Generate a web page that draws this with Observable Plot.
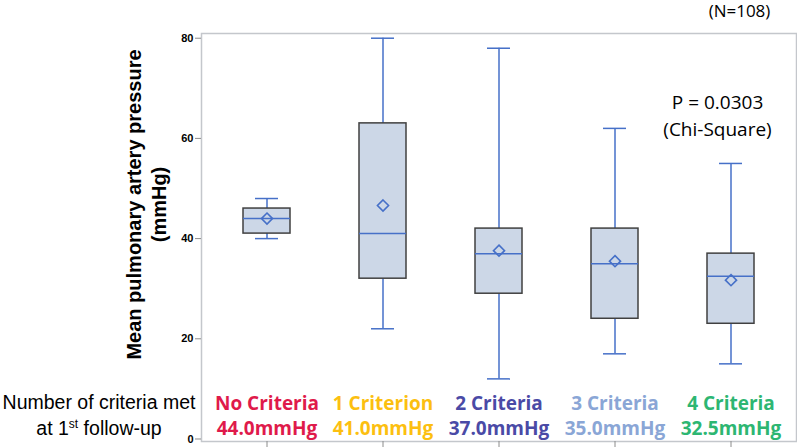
<!DOCTYPE html>
<html>
<head>
<meta charset="utf-8">
<script src="https://cdn.jsdelivr.net/npm/d3@7"></script>
<script src="https://cdn.jsdelivr.net/npm/@observablehq/plot@0.6"></script>
<style>
  html, body { margin: 0; padding: 0; background: #fff; }
  #wrap { position: relative; width: 797px; height: 448px; }
  #rowcap { position: absolute; left: 0; top: 390px; width: 198px; text-align: center;
    font-family: "Liberation Sans", Arial, sans-serif; font-size: 19.5px; line-height: 25.5px; color: #000; }
  #rowcap sup { font-size: 12px; line-height: 0; }
</style>
</head>
<body>
<div id="wrap"><div id="rowcap">Number of criteria met<br>at 1<sup>st</sup> follow-up</div></div>
<script>
const categories = ["No Criteria", "1 Criterion", "2 Criteria", "3 Criteria", "4 Criteria"];
const medianLabels = ["44.0mmHg", "41.0mmHg", "37.0mmHg", "35.0mmHg", "32.5mmHg"];
const labelColors = ["#df1a4b", "#fcbf10", "#4a4aa6", "#8aa6d6", "#2db672"];
const whiskerLow = [40, 22, 12, 17, 15];
const q1 = [41, 32, 29, 24, 23];
const median = [44, 41, 37, 35, 32.5];
const q3 = [46, 63, 42, 42, 37];
const whiskerHigh = [48, 80, 78, 62, 55];
const mean = [44, 46.6, 37.6, 35.5, 31.7];
const yTicks = [0, 20, 40, 60, 80];
const yLabel = ["Mean pulmonary artery pressure", "(mmHg)"];
const nLabel = "(N=108)";
const pLabel = ["P = 0.0303", "(Chi-Square)"];

const rows = categories.map((c, i) => ({
  cat: c, lo: whiskerLow[i], q1: q1[i], med: median[i], q3: q3[i], hi: whiskerHigh[i],
  mean: mean[i], label: c + "\n" + medianLabels[i], color: labelColors[i]
}));

const blue = "#4670c8";
const chart = Plot.plot({
  width: 797, height: 448,
  marginLeft: 201, marginRight: 1, marginTop: 33, marginBottom: 7,
  x: { type: "band", domain: categories, paddingInner: 0.596, paddingOuter: 0.357, axis: null, label: null },
  y: { domain: [-0.5, 80.94], axis: null, label: null },
  color: { type: "identity" },
  style: { fontFamily: "Liberation Sans, Arial, sans-serif", background: "white", overflow: "visible" },
  marks: [
    Plot.frame({ stroke: "#c4c7cc", strokeWidth: 1.5 }),
    Plot.axisY({ ticks: yTicks, tickSize: 6, tickPadding: 2, stroke: "#8c8c8c", fill: "#000",
      fontWeight: "bold", fontSize: 11, tickFormat: d => String(d), label: null }),
    Plot.axisX({ tickSize: 6, stroke: "#8c8c8c", tickFormat: () => "", label: null }),
    Plot.ruleX(rows, { x: "cat", y1: "lo", y2: "q1", stroke: blue, strokeWidth: 1.5 }),
    Plot.ruleX(rows, { x: "cat", y1: "q3", y2: "hi", stroke: blue, strokeWidth: 1.5 }),
    Plot.barY(rows, { x: "cat", y1: "q1", y2: "q3", fill: "#ccd7e7", stroke: "#404040", strokeWidth: 1.5 }),
    Plot.tickY(rows, { x: "cat", y: "med", stroke: blue, strokeWidth: 1.5 }),
    Plot.tickY(rows, { x: "cat", y: "lo", stroke: blue, strokeWidth: 1.5, insetLeft: 12, insetRight: 12 }),
    Plot.tickY(rows, { x: "cat", y: "hi", stroke: blue, strokeWidth: 1.5, insetLeft: 12, insetRight: 12 }),
    Plot.dot(rows, { x: "cat", y: "mean", symbol: "diamond2", r: 5, stroke: blue, strokeWidth: 1.6, fill: "none" }),
    Plot.text(rows, { x: "cat", text: "label", fill: "color", frameAnchor: "bottom", dy: -27.5,
      textAnchor: "middle", lineAnchor: "middle",
      fontFamily: "Open Sans, sans-serif", fontWeight: "bold", fontSize: 19, lineHeight: 1.32 }),
    Plot.text([yLabel.join("\n")], { frameAnchor: "left", dx: -56, dy: -33, rotate: -90,
      textAnchor: "middle", lineAnchor: "middle",
      fontWeight: "bold", fontSize: 20, lineHeight: 1.22, fill: "#000" }),
    Plot.text([nLabel], { frameAnchor: "top-right", dx: -57, dy: -22, textAnchor: "middle", lineAnchor: "middle",
      fontFamily: "Open Sans, sans-serif", fontSize: 17, fill: "#000" }),
    Plot.text([pLabel.join("\n")], { frameAnchor: "top-right", dx: -79, dy: 80.5, textAnchor: "middle", lineAnchor: "middle",
      fontFamily: "Open Sans, sans-serif", fontSize: 19, lineHeight: 1.42, fill: "#000" })
  ]
});
document.getElementById("wrap").prepend(chart);
</script>
</body>
</html>
